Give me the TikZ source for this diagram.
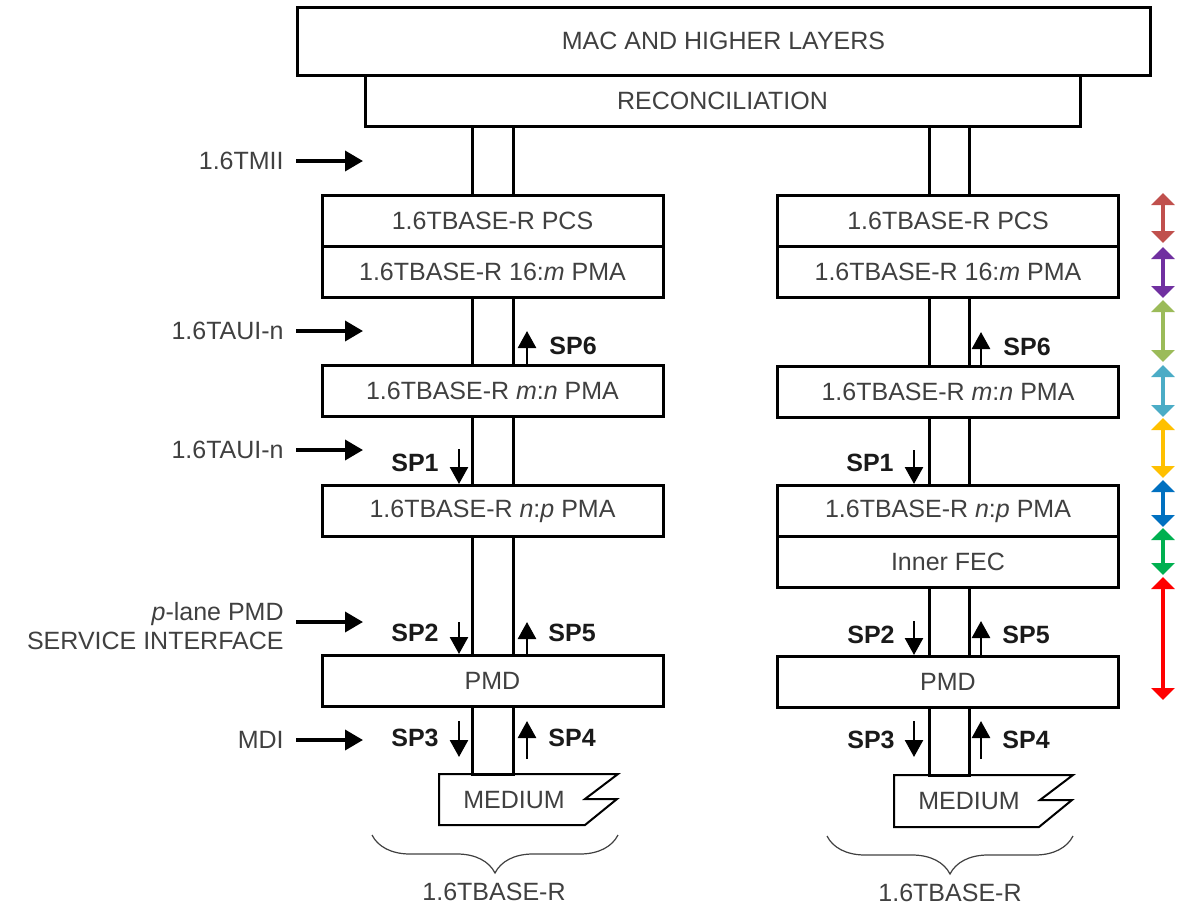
\documentclass[tikz,border=0pt]{standalone}
\usepackage{fontspec}
\setmainfont{Liberation Sans}
\usetikzlibrary{arrows.meta, decorations.pathreplacing}
\definecolor{ink}{HTML}{000000}
\definecolor{label}{HTML}{404040}
\definecolor{splabel}{HTML}{1A1A1A}
\definecolor{lbrick}{HTML}{C0504D}
\definecolor{lpurple}{HTML}{7030A0}
\definecolor{lolive}{HTML}{9BBB59}
\definecolor{lteal}{HTML}{4BACC6}
\definecolor{lgold}{HTML}{FFC000}
\definecolor{lblue}{HTML}{0070C0}
\definecolor{lgreen}{HTML}{00B050}
\definecolor{lred}{HTML}{FF0000}
\tikzset{
  font=\fontsize{12.5}{14.5}\selectfont,
  %
  layer/.style={
    draw=ink, line width=1.5pt, fill=white, inner sep=0pt, text=label,
    minimum width=170.5pt, minimum height=25.5pt,
  },
  pipe/.style={draw=ink, line width=1.5pt},
  medium/.style={draw=ink, line width=1pt, fill=white},
  %
  ifarrow/.style={draw=ink, line width=1.8pt, -{Triangle[length=9pt, width=10pt]},
                  shorten <=6pt},
  sparrow/.style={draw=ink, line width=1.3pt, -{Triangle[length=8.5pt, width=9pt]}},
  lane/.style={line width=2pt,
               {Triangle[length=6pt, width=11.5pt]}-{Triangle[length=6pt, width=11.5pt]}},
  %
  lbl/.style={text=label, inner sep=0pt},
  splbl/.style={text=splabel, inner sep=0pt, font=\fontsize{12.5}{14.5}\selectfont\bfseries},
  brace/.style={decorate, decoration={brace, amplitude=19pt}, draw=label, line width=0.6pt},
}

\begin{document}
\begin{tikzpicture}[x=0.5pt, y=-0.5pt]
  \useasboundingbox (0,0) rectangle (1185,906);

  % ---- shared upper layers ----------------------------------------------
  \node[layer, minimum width=426.5pt, minimum height=34pt] (mac) at (723.5,41)
    {MAC AND HIGHER LAYERS};
  \node[layer, minimum width=357.5pt] (recon) at (722.5,100.5) {RECONCILIATION};

  % ---- left stack -------------------------------------------------------
  \node[layer] (pcsL) at (492.5,221) {1.6TBASE-R PCS};
  \node[layer] (pmaL) at (492.5,272) {1.6TBASE-R 16:\textit{m} PMA};
  \node[layer] (mnL)  at (492.5,391) {1.6TBASE-R \textit{m}:\textit{n} PMA};
  \node[layer] (npL)  at (492.5,511) {1.6TBASE-R \textit{n}:\textit{p} PMA};
  \node[layer] (pmdL) at (492.5,681) {PMD};

  % ---- right stack ------------------------------------------------------
  \node[layer] (pcsR) at (948,221) {1.6TBASE-R PCS};
  \node[layer] (pmaR) at (948,272) {1.6TBASE-R 16:\textit{m} PMA};
  \node[layer] (mnR)  at (948,392) {1.6TBASE-R \textit{m}:\textit{n} PMA};
  \node[layer] (npR)  at (948,511) {1.6TBASE-R \textit{n}:\textit{p} PMA};
  \node[layer] (fecR) at (948,562) {Inner FEC};
  \node[layer] (pmdR) at (948,682) {PMD};

  % ---- medium -----------------------------------------------------------
  \draw[medium] (439,774) coordinate (medLtop) -- (618,774) -- (585,799)
    -- (617,799) -- (585,825) -- (439,825) -- cycle;
  \node[lbl] (medL) at (514,800) {MEDIUM};
  \draw[medium] (894,775) coordinate (medRtop) -- (1073,775) -- (1040,800)
    -- (1072,800) -- (1039,827) -- (894,827) -- cycle;
  \node[lbl] (medR) at (969,801) {MEDIUM};

  % ---- pipes ------------------------------------------------------------
  \coordinate (pipeL1) at (472,0);
  \coordinate (pipeL2) at (513,0);
  \coordinate (pipeR1) at (929,0);
  \coordinate (pipeR2) at (969,0);
  \foreach \a/\b in {recon/pcsL, pmaL/mnL, mnL/npL, npL/pmdL} {
    \draw[pipe] (\a.south -| pipeL1) -- (\b.north -| pipeL1);
    \draw[pipe] (\a.south -| pipeL2) -- (\b.north -| pipeL2);
  }
  \foreach \a/\b in {recon/pcsR, pmaR/mnR, mnR/npR, fecR/pmdR} {
    \draw[pipe] (\a.south -| pipeR1) -- (\b.north -| pipeR1);
    \draw[pipe] (\a.south -| pipeR2) -- (\b.north -| pipeR2);
  }
  \draw[pipe] (pmdL.south -| pipeL1) -- (pipeL1 |- medLtop) -- (pipeL2 |- medLtop)
    -- (pmdL.south -| pipeL2);
  \draw[pipe] (pmdR.south -| pipeR1) -- (pipeR1 |- medRtop) -- (pipeR2 |- medRtop)
    -- (pmdR.south -| pipeR2);

  % ---- interface labels -------------------------------------------------
  \node[lbl, anchor=east] (mii)  at (284,161) {1.6TMII};
  \node[lbl, anchor=east] (auiA) at (284,331) {1.6TAUI-n};
  \node[lbl, anchor=east] (auiB) at (284,450) {1.6TAUI-n};
  \node[lbl, anchor=east, align=right] (pmdsi) at (284,626.5)
    {\textit{p}-lane PMD\\SERVICE INTERFACE};
  \node[lbl, anchor=east] (mdi)  at (284,740) {MDI};

  \coordinate (miiTip)   at (363,161);
  \coordinate (auiATip)  at (363,331);
  \coordinate (auiBTip)  at (363,450);
  \coordinate (pmdsiTip) at (363,622);
  \coordinate (mdiTip)   at (363,740);
  \draw[ifarrow] (mii.east) -- (miiTip);
  \draw[ifarrow] (auiA.east) -- (auiATip);
  \draw[ifarrow] (auiB.east) -- (auiBTip);
  \draw[ifarrow] (pmdsi.east |- pmdsiTip) -- (pmdsiTip);
  \draw[ifarrow] (mdi.east) -- (mdiTip);

  % ---- service primitives, left -----------------------------------------
  \coordinate (sp6L) at (527,331);
  \coordinate (sp1L) at (459,449);
  \coordinate (sp2L) at (459,622);
  \coordinate (sp5L) at (527,622);
  \coordinate (sp3L) at (459,721);
  \coordinate (sp4L) at (527,721);
  \draw[sparrow] (mnL.north -| sp6L) -- (sp6L);
  \draw[sparrow] (sp1L) -- (npL.north -| sp1L);
  \draw[sparrow] (sp2L) -- (pmdL.north -| sp2L);
  \draw[sparrow] (pmdL.north -| sp5L) -- (sp5L);
  \draw[sparrow] (sp3L) -- ++(0,36);
  \draw[sparrow] (sp4L) ++(0,38) -- (sp4L);
  \node[splbl, anchor=west] (sp6Ltxt) at (549,346) {SP6};
  \node[splbl, anchor=east] (sp1Ltxt) at (439,463) {SP1};
  \node[splbl, anchor=east] (sp2Ltxt) at (439,633) {SP2};
  \node[splbl, anchor=west] (sp5Ltxt) at (548,633) {SP5};
  \node[splbl, anchor=east] (sp3Ltxt) at (439,738) {SP3};
  \node[splbl, anchor=west] (sp4Ltxt) at (548,738) {SP4};

  % ---- service primitives, right ----------------------------------------
  \coordinate (sp6R) at (981,332);
  \coordinate (sp1R) at (914,450);
  \coordinate (sp2R) at (914,621);
  \coordinate (sp5R) at (981,621);
  \coordinate (sp3R) at (914,721);
  \coordinate (sp4R) at (981,721);
  \draw[sparrow] (mnR.north -| sp6R) -- (sp6R);
  \draw[sparrow] (sp1R) -- (npR.north -| sp1R);
  \draw[sparrow] (sp2R) -- (pmdR.north -| sp2R);
  \draw[sparrow] (pmdR.north -| sp5R) -- (sp5R);
  \draw[sparrow] (sp3R) -- ++(0,36);
  \draw[sparrow] (sp4R) ++(0,38) -- (sp4R);
  \node[splbl, anchor=west] (sp6Rtxt) at (1003,347) {SP6};
  \node[splbl, anchor=east] (sp1Rtxt) at (894,463) {SP1};
  \node[splbl, anchor=east] (sp2Rtxt) at (895,635) {SP2};
  \node[splbl, anchor=west] (sp5Rtxt) at (1002,635) {SP5};
  \node[splbl, anchor=east] (sp3Rtxt) at (895,740) {SP3};
  \node[splbl, anchor=west] (sp4Rtxt) at (1002,740) {SP4};

  % ---- braces -----------------------------------------------------------
  \draw[brace] (618,835) -- (372,835);
  \node[lbl] (phyL) at (494,892) {1.6TBASE-R};
  \draw[brace] (1073,836) -- (827,836);
  \node[lbl] (phyR) at (950,893) {1.6TBASE-R};

  % ---- sublayer span markers --------------------------------------------
  \foreach \c/\a/\b in {lbrick/193/243, lpurple/247/298, lolive/300/362,
                        lteal/365/417, lgold/418/478, lblue/480/527,
                        lgreen/528/575, lred/577/700} {
    \draw[lane, \c] (1163,\a) -- (1163,\b);
  }

\end{tikzpicture}
\end{document}
